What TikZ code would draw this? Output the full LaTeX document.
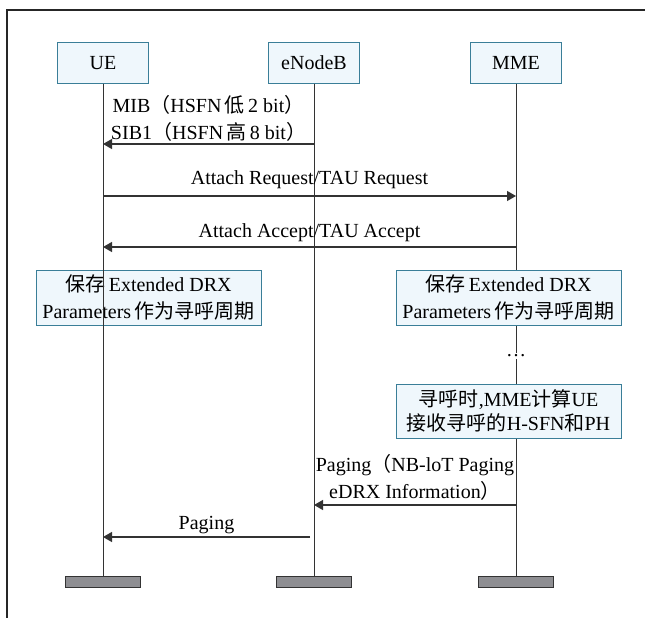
\documentclass[tikz,border=0pt]{standalone}
\usepackage{fontspec}
\setmainfont{Liberation Serif}
\newfontfamily\cjk{Noto Sans CJK SC}
\usetikzlibrary{arrows.meta}
\definecolor{notefill}{HTML}{EFF7FC}
\definecolor{noteline}{HTML}{3A7E98}
\definecolor{bargray}{HTML}{8E8E92}
\begin{document}
\begin{tikzpicture}[x=1pt, y=-1pt,
  font=\fontsize{20}{27}\selectfont,
  entity/.style={draw=noteline, fill=notefill, line width=1pt, minimum width=91pt, minimum height=40pt, inner sep=0pt},
  note/.style={draw=noteline, fill=notefill, line width=1pt, align=center, minimum width=225pt, minimum height=55pt, inner sep=0pt},
  endbar/.style={draw=black!80, fill=bargray, line width=1pt, minimum width=75pt, minimum height=11pt, inner sep=0pt},
  life/.style={draw=black!80, line width=0.9pt},
  msg/.style={draw=black!80, line width=1.2pt, -{Triangle[length=9pt,width=10pt]}},
  lbl/.style={align=center, inner sep=0pt}]
\useasboundingbox (0,0) rectangle (645,618);
\draw[line width=1.5pt, black!85] (645,10) -- (7,10) -- (7,618);

\node[entity] (ue) at (103,63) {UE};
\node[entity] (enb) at (314,63) {eNodeB};
\node[entity] (mme) at (516,63) {MME};

\node[endbar] (uebar) at (103,581.5) {};
\node[endbar] (enbbar) at (314,581.5) {};
\node[endbar] (mmebar) at (516,581.5) {};

\draw[life] (enb) -- (enbbar);
\draw[life] (mme) -- (mmebar);

\node[note] (save1) at (148.5,297.5) {{\cjk 保存}\,Extended DRX\\Parameters\,{\cjk 作为寻呼周期}};
\node[note] (save2) at (508.5,297.5) {{\cjk 保存}\,Extended DRX\\Parameters\,{\cjk 作为寻呼周期}};
\node[fill=white, inner sep=2pt] (dots) at (516,356) {\ldots};
\node[note, minimum height=54pt, font=\fontsize{20}{24}\selectfont] (calc) at (508.5,411) {{\cjk 寻呼时},MME{\cjk 计算}UE\\{\cjk 接收寻呼的}H-SFN{\cjk 和}PH};

\draw[life] (ue) -- (uebar);

\draw[msg] (enb |- 0,144) -- node[lbl, above=1.5pt] {MIB{\cjk （}HSFN\,{\cjk 低}\,2 bit{\cjk ）}\\SIB1{\cjk （}HSFN\,{\cjk 高}\,8 bit{\cjk ）}} (ue |- 0,144);
\draw[msg] (ue |- 0,196) -- node[lbl, above=6.5pt] {Attach Request/TAU Request} (mme |- 0,196);
\draw[msg] (mme |- 0,247) -- node[lbl, above=4.5pt] {Attach Accept/TAU Accept} (ue |- 0,247);
\draw[msg] (mme |- 0,505) -- node[lbl, above=3.5pt] {Paging{\cjk （}NB-loT Paging\\eDRX Information{\cjk ）}} (enb |- 0,505);
\coordinate (pagefrom) at (310,537);
\draw[msg] (pagefrom) -- node[lbl, above=2.5pt] {Paging} (ue |- 0,537);
\end{tikzpicture}
\end{document}
